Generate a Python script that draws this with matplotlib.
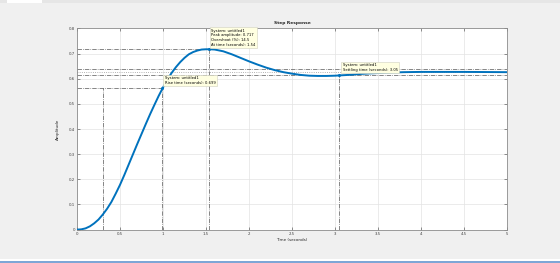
import matplotlib
matplotlib.use("Agg")
import matplotlib.pyplot as plt
from matplotlib.patches import Rectangle

# step response
t = [0.0, 0.05, 0.1, 0.15, 0.2, 0.25, 0.3, 0.35, 0.4, 0.45, 0.5, 0.55, 0.6,
     0.65, 0.7, 0.75, 0.8, 0.85, 0.9, 0.95, 1.0, 1.05, 1.1, 1.15, 1.2, 1.25,
     1.3, 1.35, 1.4, 1.45, 1.5, 1.54, 1.6, 1.7, 1.8, 1.9, 2.0, 2.1, 2.2, 2.3,
     2.4, 2.5, 2.6, 2.7, 2.8, 2.9, 3.0, 3.1, 3.2, 3.3, 3.4, 3.6, 3.8, 4.0,
     4.5, 5.0]
amp = [0.000, 0.001, 0.005, 0.013, 0.025, 0.040, 0.060, 0.083, 0.110, 0.143,
       0.178, 0.217, 0.258, 0.299, 0.340, 0.380, 0.420, 0.459, 0.496, 0.532,
       0.565, 0.596, 0.623, 0.646, 0.666, 0.683, 0.697, 0.706, 0.712, 0.716,
       0.717, 0.717, 0.716, 0.709, 0.697, 0.683, 0.669, 0.656, 0.644, 0.634,
       0.626, 0.620, 0.615, 0.612, 0.611, 0.611, 0.612, 0.614, 0.616, 0.619,
       0.621, 0.624, 0.626, 0.627, 0.627, 0.626]

final_value = 0.626
peak_amp = 0.717
peak_time = 1.54
overshoot = 14.5
t10 = 0.30
t90 = 0.99
y90 = 0.563
rise_time = 0.699
settling_time = 3.05
band = (0.614, 0.639)

xticks = [0, 0.5, 1, 1.5, 2, 2.5, 3, 3.5, 4, 4.5, 5]
xticklabels = ["0", "0.5", "1", "1.5", "2", "2.5", "3", "3.5", "4", "4.5", "5"]
yticks = [0, 0.1, 0.2, 0.3, 0.4, 0.5, 0.6, 0.7, 0.8]
yticklabels = ["0", "0.1", "0.2", "0.3", "0.4", "0.5", "0.6", "0.7", "0.8"]

fig = plt.figure(figsize=(5.6, 2.63), dpi=100, facecolor="#f0f0f0")
ax = fig.add_axes([0.1375, 0.127, 0.768, 0.765])

ax.set_xlim(0, 5)
ax.set_ylim(0, 0.8)
ax.set_xticks(xticks)
ax.set_xticklabels(xticklabels)
ax.set_yticks(yticks)
ax.set_yticklabels(yticklabels)
ax.grid(color="#e3e3e3", linewidth=0.5)
ax.set_axisbelow(True)
ax.tick_params(direction="in", length=2, width=0.4, labelsize=2.8,
               colors="#404040", top=True, right=True, pad=1.5)
for s in ax.spines.values():
    s.set_color("#8c8c8c")
    s.set_linewidth(0.6)

ref = dict(color="#555555", linestyle="-.", linewidth=0.5)
# horizontal characteristic lines
ax.plot([0, 5], [band[0], band[0]], **ref)
ax.plot([0, 5], [band[1], band[1]], **ref)
ax.plot([0, 5], [final_value, final_value], color="#9a9a9a", linestyle=":",
        linewidth=0.6)
ax.plot([0, peak_time], [peak_amp, peak_amp], **ref)
ax.plot([0, t90], [y90, y90], **ref)
# vertical characteristic lines
ax.plot([t10, t10], [0, y90], **ref)
ax.plot([t90, t90], [0, y90], **ref)
ax.plot([peak_time, peak_time], [0, peak_amp], **ref)
ax.plot([settling_time, settling_time], [0, band[0]], **ref)

ax.plot(t, amp, color="#0072bd", linewidth=1.4, zorder=3)
ax.plot([t90, peak_time, settling_time], [y90, peak_amp, band[0]], "o",
        ms=1.2, mfc="#0072bd", mec="#0072bd", zorder=4)

tip = dict(boxstyle="square,pad=0.35", fc="#ffffe1", ec="#d0d0c0", lw=0.4)
ax.text(t90 + 0.03, y90 + 0.012,
        "System: untitled1\nRise time (seconds): %.3f" % rise_time,
        fontsize=2.7, ha="left", va="bottom", bbox=tip, zorder=5,
        linespacing=1.25)
ax.text(peak_time + 0.02, peak_amp + 0.01,
        "System: untitled1\nPeak amplitude: %.3f\nOvershoot (%%): %.1f\n"
        "At time (seconds): %.2f" % (peak_amp, overshoot, peak_time),
        fontsize=2.7, ha="left", va="bottom", bbox=tip, zorder=5,
        linespacing=1.25)
ax.text(settling_time + 0.04, 0.627,
        "System: untitled1\nSettling time (seconds): %.2f" % settling_time,
        fontsize=2.7, ha="left", va="bottom", bbox=tip, zorder=5,
        linespacing=1.25)

ax.set_title("Step Response", fontsize=3.2, fontweight="bold", pad=3,
             color="#262626")
ax.set_xlabel("Time (seconds)", fontsize=3.0, labelpad=1.5, color="#262626")
ax.set_ylabel("Amplitude", fontsize=3.0, labelpad=6, color="#262626")

# window chrome
fig.add_artist(Rectangle((0.0, 0.988), 1.0, 0.012, transform=fig.transFigure,
                         fc="#e6e6e6", ec="none"))
fig.add_artist(Rectangle((0.012, 0.988), 0.063, 0.012, transform=fig.transFigure,
                         fc="#ffffff", ec="none"))
fig.add_artist(Rectangle((0.0, 0.004), 1.0, 0.011, transform=fig.transFigure,
                         fc="#ffffff", ec="none"))
fig.add_artist(Rectangle((0.0, 0.0), 1.0, 0.006, transform=fig.transFigure,
                         fc="#7ea6d6", ec="none"))

fig.savefig("out.png", dpi=100, facecolor=fig.get_facecolor())
